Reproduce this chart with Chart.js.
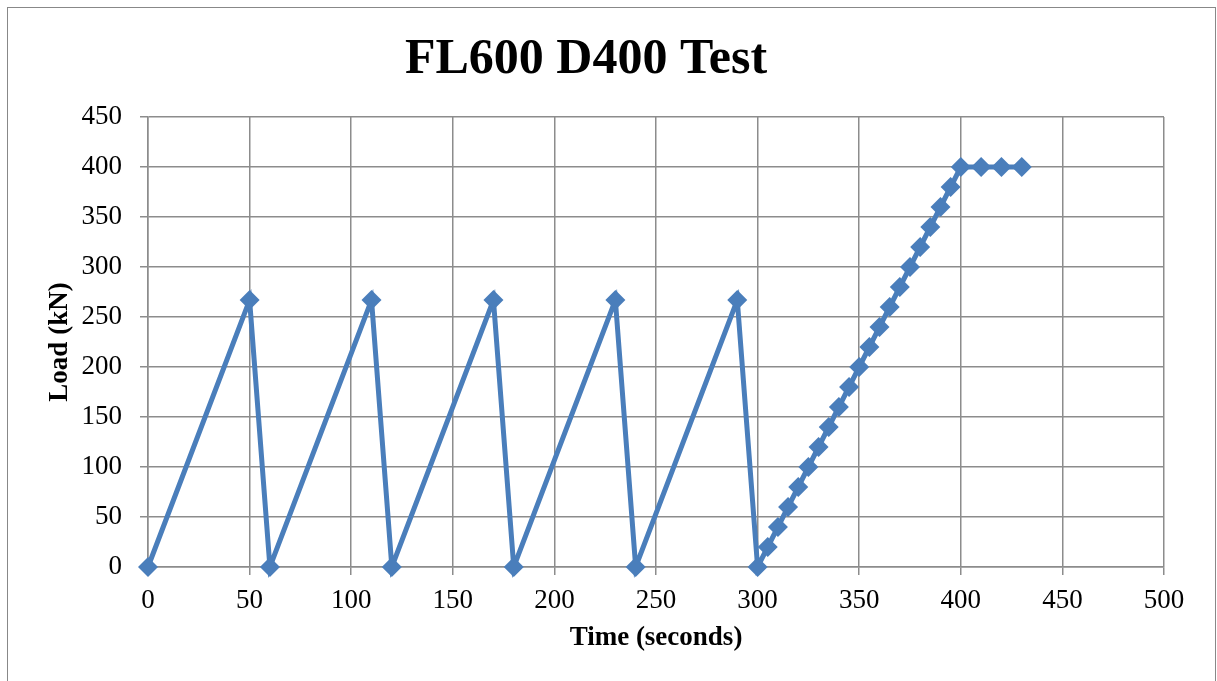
<!DOCTYPE html>
<html>
<head>
<meta charset="utf-8">
<script src="https://cdn.jsdelivr.net/npm/chart.js@4"></script>
<style>
  html, body { margin: 0; padding: 0; background: #fff; overflow: hidden; }
  #box {
    position: absolute; left: 7px; top: 7px;
    width: 1207px; height: 680px;
    border: 1px solid #888;
  }
  #box canvas { display: block; }
</style>
</head>
<body>
<div id="box"><canvas id="myChart" width="1207" height="673"></canvas></div>
<script>
// Time (s) and load (kN)
const timeValues = [0, 50, 60, 110, 120, 170, 180, 230, 240, 290, 300,
  305, 310, 315, 320, 325, 330, 335, 340, 345, 350, 355, 360, 365, 370,
  375, 380, 385, 390, 395, 400, 410, 420, 430]
const loadValues = [0, 267, 0, 267, 0, 267, 0, 267, 0, 267, 0,
  20, 40, 60, 80, 100, 120, 140, 160, 180, 200, 220, 240, 260, 280,
  300, 320, 340, 360, 380, 400, 400, 400, 400]

const xTicks = [0, 50, 100, 150, 200, 250, 300, 350, 400, 450, 500]
const yTicks = [0, 50, 100, 150, 200, 250, 300, 350, 400, 450]

const serif = '"Liberation Serif", "DejaVu Serif", serif'
const blue = '#4A7EBB'
const gridGrey = '#8c8c8c'

const points = timeValues.map((t, i) => ({ x: t, y: loadValues[i] }))

const ctx = document.getElementById('myChart').getContext('2d')
new Chart(ctx, {
  type: 'scatter',
  data: {
    datasets: [{
      label: 'Load',
      data: points,
      showLine: true,
      clip: false,
      borderColor: blue,
      backgroundColor: blue,
      borderWidth: 5,
      pointStyle: 'rectRot',
      pointRadius: 10,
      pointBorderWidth: 0,
      pointBackgroundColor: blue
    }]
  },
  options: {
    responsive: false,
    animation: false,
    layout: {
      padding: { left: 0, right: 51, top: 0, bottom: 0 }
    },
    scales: {
      x: {
        type: 'linear',
        min: 0,
        max: 500,
        afterBuildTicks: axis => { axis.ticks = xTicks.map(v => ({ value: v })) },
        afterFit: axis => { axis.height = 114 },
        grid: { color: gridGrey, lineWidth: 1.5, tickLength: 8 },
        border: { color: gridGrey, width: 1.5 },
        ticks: {
          color: '#000',
          padding: 10,
          maxRotation: 0,
          font: { family: serif, size: 27 }
        },
        title: {
          display: true,
          text: 'Time (seconds)',
          color: '#000',
          font: { family: serif, size: 27, weight: 'bold' },
          padding: { top: 0, bottom: 27 }
        }
      },
      y: {
        type: 'linear',
        min: 0,
        max: 450,
        afterBuildTicks: axis => { axis.ticks = yTicks.map(v => ({ value: v })) },
        afterFit: axis => { axis.width = 140 },
        grid: { color: gridGrey, lineWidth: 1.5, tickLength: 8 },
        border: { color: gridGrey, width: 1.5 },
        ticks: {
          color: '#000',
          padding: 18,
          font: { family: serif, size: 27 }
        },
        title: {
          display: true,
          text: 'Load (kN)',
          color: '#000',
          font: { family: serif, size: 27, weight: 'bold' },
          padding: { top: 36, bottom: 0 }
        }
      }
    },
    plugins: {
      legend: { display: false },
      tooltip: { enabled: false },
      title: {
        display: true,
        text: 'FL600 D400 Test',
        color: '#000',
        font: { family: serif, size: 50, weight: 'bold' },
        padding: { top: 22, bottom: 27 }
      }
    }
  }
})
</script>
</body>
</html>
